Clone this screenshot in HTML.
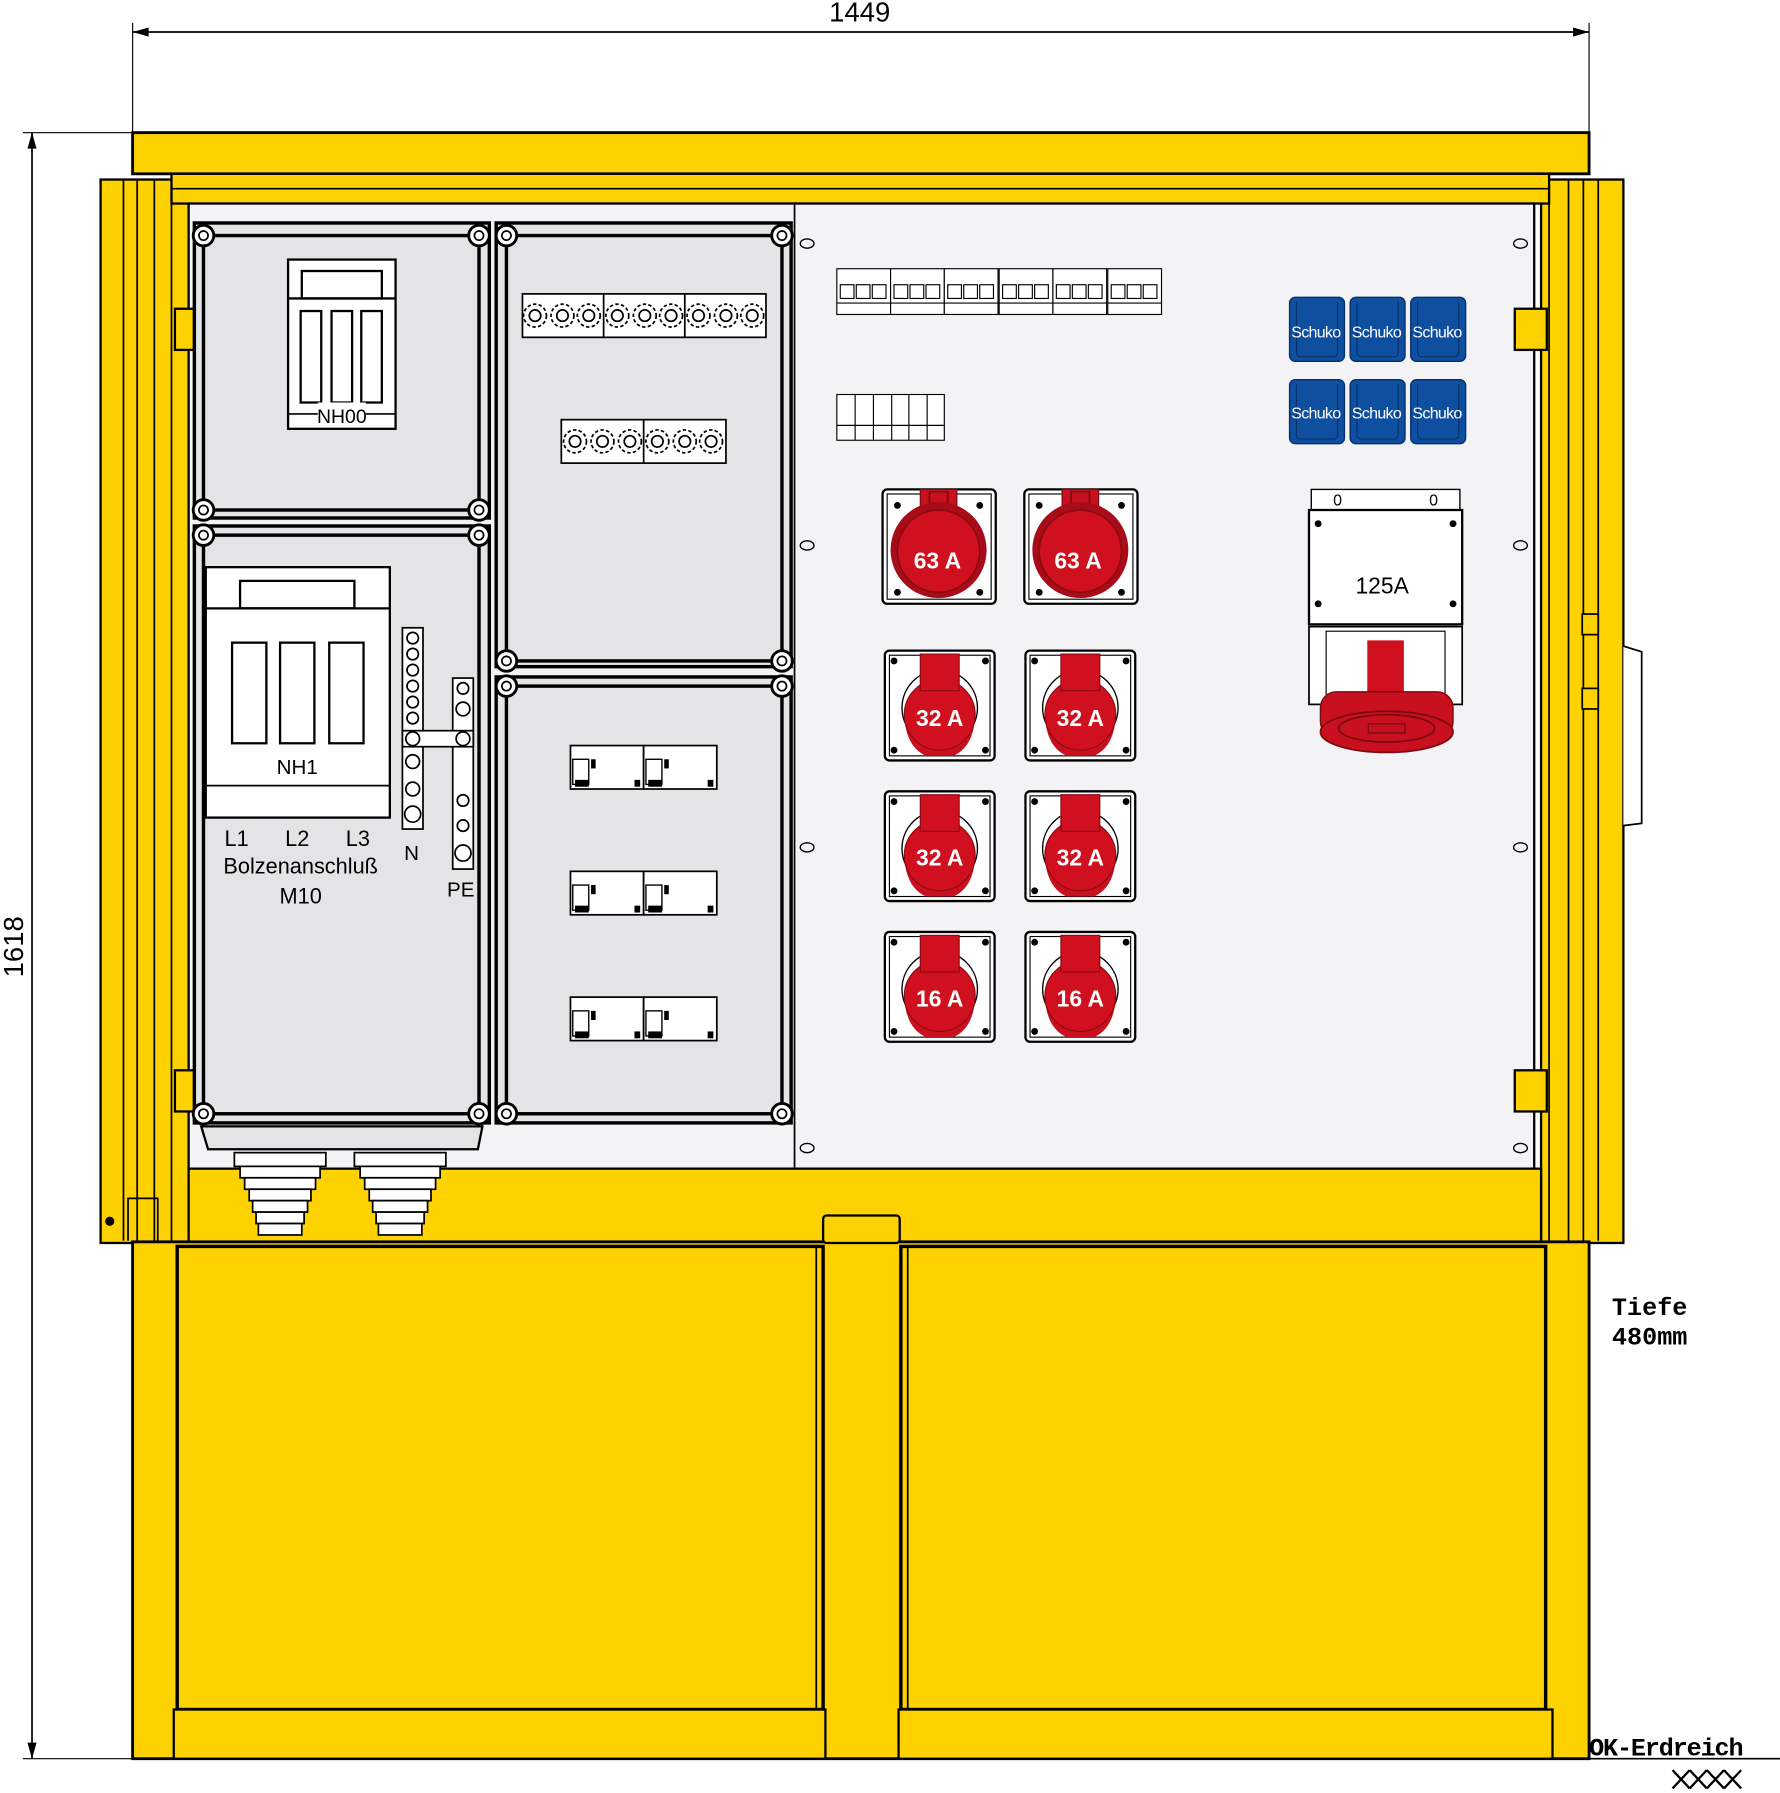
<!DOCTYPE html>
<html><head><meta charset="utf-8"><style>
html,body{margin:0;padding:0;background:#fff;}
svg{display:block;}
</style></head><body>
<svg width="1780" height="1793" viewBox="0 0 1557 1568" preserveAspectRatio="none" xmlns="http://www.w3.org/2000/svg" font-family="Liberation Sans, sans-serif">
<defs>
<g id="scr"><circle r="9" fill="#fff" stroke="#000" stroke-width="2.5"/><circle r="4" fill="none" stroke="#000" stroke-width="1.5"/></g>
<g id="s63">
<rect x="-49" y="-52" width="99" height="100" rx="4" fill="#fff" stroke="#000" stroke-width="2"/>
<rect x="-45" y="-48" width="91" height="92" fill="none" stroke="#000" stroke-width="1"/>
<circle cx="-36" cy="-38" r="3" fill="#000"/><circle cx="36" cy="-38" r="3" fill="#000"/>
<circle cx="-36" cy="38" r="3" fill="#000"/><circle cx="36" cy="38" r="3" fill="#000"/>
<rect x="-16" y="-52" width="32" height="24" fill="#c8101e" stroke="#7a0a10" stroke-width="1"/>
<rect x="-8" y="-50" width="16" height="12" fill="none" stroke="#7a0a10" stroke-width="1.5"/>
<circle cx="0" cy="1" r="42" fill="#a80c18"/>
<circle cx="0" cy="2" r="36" fill="#d0101f" stroke="#8a0a12" stroke-width="1.5"/>
</g>
<g id="s32">
<rect x="-48" y="-48" width="96" height="96" rx="4" fill="#fff" stroke="#000" stroke-width="2"/>
<rect x="-44" y="-44" width="88" height="88" fill="none" stroke="#000" stroke-width="1"/>
<circle cx="-40" cy="-39" r="3" fill="#000"/><circle cx="40" cy="-39" r="3" fill="#000"/>
<circle cx="-40" cy="39" r="3" fill="#000"/><circle cx="40" cy="39" r="3" fill="#000"/>
<circle cx="0" cy="2" r="33" fill="none" stroke="#000" stroke-width="1.2"/>
<path d="M-31 8 Q-30 36 -12 44 L12 44 Q30 36 31 8 Z" fill="#c8101e"/>
<circle cx="0" cy="8" r="31" fill="#d0101f" stroke="#8a0a12" stroke-width="1"/>
<rect x="-17" y="-45" width="34" height="32" fill="#d0101f" stroke="#8a0a12" stroke-width="1"/>
</g>
<g id="fuse"><rect x="0" y="0" width="64" height="38" fill="#fff" stroke="#000" stroke-width="1.5"/>
<rect x="2" y="12" width="14" height="22" fill="none" stroke="#000" stroke-width="1.2"/><rect x="4" y="30" width="12" height="6" fill="#000"/><rect x="56" y="30" width="5" height="6" fill="#000"/><rect x="18" y="12" width="4" height="8" fill="#000"/></g>
<g id="term"><circle r="10" fill="#fff" stroke="#000" stroke-width="1.5" stroke-dasharray="3 2"/><circle r="5" fill="none" stroke="#000" stroke-width="1.5"/></g>
<g id="sch"><rect width="48" height="56" rx="5" fill="#0e4fa0" stroke="#06306b" stroke-width="1.2"/><path d="M6 4 V48 Q6 52 10 52 H38 Q42 52 42 48 V4" fill="none" stroke="#06306b" stroke-width="1"/></g>
<g id="mcb"><rect width="47" height="40" fill="#fff" stroke="#000" stroke-width="1"/><rect x="3" y="14" width="12" height="12" fill="none" stroke="#000"/><rect x="17" y="14" width="12" height="12" fill="none" stroke="#000"/><rect x="31" y="14" width="12" height="12" fill="none" stroke="#000"/><line x1="0" y1="30" x2="47" y2="30" stroke="#000"/></g>
<g id="gland" fill="#fff" stroke="#000" stroke-width="1.5">
<rect x="0" y="0" width="80" height="12"/><rect x="5" y="12" width="70" height="10"/><rect x="9" y="22" width="62" height="10"/><rect x="13" y="32" width="54" height="10"/><rect x="16" y="42" width="48" height="10"/><rect x="19" y="52" width="42" height="10"/><rect x="21" y="62" width="38" height="10"/>
</g>
</defs>

<!-- dimensions -->
<line x1="116" y1="28" x2="1390" y2="28" stroke="#000" stroke-width="1.5"/>
<path d="M116 28 l14 -4 v8z M1390 28 l-14 -4 v8z" fill="#000"/>
<line x1="116" y1="20" x2="116" y2="116" stroke="#000" stroke-width="1"/>
<line x1="1390" y1="20" x2="1390" y2="116" stroke="#000" stroke-width="1"/>
<text x="752" y="19" font-size="24" text-anchor="middle">1449</text>
<line x1="28" y1="116" x2="28" y2="1538" stroke="#000" stroke-width="1.5"/>
<path d="M28 116 l-4 14 h8z M28 1538 l-4 -14 h8z" fill="#000"/>
<line x1="20" y1="116" x2="116" y2="116" stroke="#000"/>
<line x1="20" y1="1538" x2="1390" y2="1538" stroke="#000"/>
<text transform="translate(20,828) rotate(-90)" font-size="24" text-anchor="middle">1618</text>

<!-- roof -->
<rect x="116" y="116" width="1274" height="36" fill="#fdd200" stroke="#000" stroke-width="2.5"/>
<rect x="88" y="157" width="77" height="930" fill="#fdd200" stroke="#000" stroke-width="2"/>
<rect x="1348" y="157" width="72" height="930" fill="#fdd200" stroke="#000" stroke-width="2"/>
<g stroke="#000" stroke-width="1.5" fill="none">
<line x1="108" y1="157" x2="108" y2="1085"/><line x1="120" y1="157" x2="120" y2="1085"/><line x1="135" y1="157" x2="135" y2="1085"/><line x1="150" y1="157" x2="150" y2="1085"/>
<line x1="1355" y1="157" x2="1355" y2="1085"/><line x1="1372" y1="157" x2="1372" y2="1085"/><line x1="1385" y1="157" x2="1385" y2="1085"/><line x1="1398" y1="157" x2="1398" y2="1085"/>
</g>
<path d="M1420 565 L1436 570 L1436 720 L1420 722" fill="#fff" stroke="#000" stroke-width="1.5"/>
<rect x="150" y="152" width="1205" height="26" fill="#fdd200" stroke="#000" stroke-width="2"/>
<line x1="150" y1="165" x2="1355" y2="165" stroke="#000" stroke-width="1.5"/>
<rect x="165" y="178" width="1177" height="844" fill="#f3f3f5" stroke="#000" stroke-width="2"/>
<line x1="695" y1="178" x2="695" y2="1022" stroke="#000" stroke-width="1.5"/>
<rect x="153" y="270" width="30" height="36" fill="#fdd200" stroke="#000" stroke-width="2"/>
<rect x="153" y="936" width="30" height="36" fill="#fdd200" stroke="#000" stroke-width="2"/>
<rect x="1325" y="270" width="28" height="36" fill="#fdd200" stroke="#000" stroke-width="2"/>
<rect x="1325" y="936" width="28" height="36" fill="#fdd200" stroke="#000" stroke-width="2"/>
<rect x="1384" y="537" width="14" height="18" fill="#fdd200" stroke="#000" stroke-width="1.5"/>
<rect x="1384" y="602" width="14" height="18" fill="#fdd200" stroke="#000" stroke-width="1.5"/>

<!-- lower band -->
<rect x="165" y="1022" width="1183" height="64" fill="#fdd200" stroke="#000" stroke-width="2"/>
<path d="M112 1085 V1048 H138 V1085" fill="none" stroke="#000" stroke-width="1.5"/>
<circle cx="96" cy="1068" r="4" fill="#000"/>

<!-- compartments -->
<g fill="#e4e4e6" stroke="#000" stroke-width="3">
<rect x="170" y="195" width="258" height="258"/>
<rect x="170" y="460" width="258" height="522"/>
<rect x="434" y="195" width="258" height="388"/>
<rect x="434" y="592" width="258" height="390"/>
</g>
<g fill="none" stroke="#000" stroke-width="3">
<rect x="178" y="206" width="241" height="240"/>
<rect x="178" y="468" width="241" height="506"/>
<rect x="443" y="206" width="241" height="372"/>
<rect x="443" y="600" width="241" height="374"/>
</g>
<g>
<use href="#scr" x="178" y="206"/><use href="#scr" x="419" y="206"/><use href="#scr" x="178" y="446"/><use href="#scr" x="419" y="446"/>
<use href="#scr" x="178" y="468"/><use href="#scr" x="419" y="468"/><use href="#scr" x="178" y="974"/><use href="#scr" x="419" y="974"/>
<use href="#scr" x="443" y="206"/><use href="#scr" x="684" y="206"/><use href="#scr" x="443" y="578"/><use href="#scr" x="684" y="578"/>
<use href="#scr" x="443" y="600"/><use href="#scr" x="684" y="600"/><use href="#scr" x="443" y="974"/><use href="#scr" x="684" y="974"/>
</g>
<!-- NH00 -->
<rect x="252" y="227" width="94" height="148" fill="#fff" stroke="#000" stroke-width="2"/>
<rect x="264" y="237" width="70" height="24" fill="#fff" stroke="#000" stroke-width="2"/>
<line x1="252" y1="261" x2="346" y2="261" stroke="#000" stroke-width="2"/>
<g fill="#fff" stroke="#000" stroke-width="2"><rect x="263" y="272" width="18" height="80"/><rect x="290" y="272" width="18" height="80"/><rect x="316" y="272" width="18" height="80"/></g>
<line x1="252" y1="362" x2="346" y2="362" stroke="#000" stroke-width="1.5"/>
<rect x="278" y="352" width="42" height="20" fill="#fff"/>
<text x="299" y="370" font-size="17" text-anchor="middle">NH00</text>
<!-- NH1 -->
<rect x="180" y="496" width="161" height="219" fill="#fff" stroke="#000" stroke-width="2"/>
<rect x="210" y="508" width="100" height="24" fill="#fff" stroke="#000" stroke-width="2"/>
<line x1="180" y1="532" x2="341" y2="532" stroke="#000" stroke-width="2"/>
<g fill="#fff" stroke="#000" stroke-width="2"><rect x="203" y="562" width="30" height="88"/><rect x="245" y="562" width="30" height="88"/><rect x="288" y="562" width="30" height="88"/></g>
<line x1="180" y1="687" x2="341" y2="687" stroke="#000" stroke-width="1.5"/>
<text x="260" y="677" font-size="18" text-anchor="middle">NH1</text>
<text x="207" y="740" font-size="19" text-anchor="middle">L1</text>
<text x="260" y="740" font-size="19" text-anchor="middle">L2</text>
<text x="313" y="740" font-size="19" text-anchor="middle">L3</text>
<text x="263" y="764" font-size="19" text-anchor="middle">Bolzenanschluß</text>
<text x="263" y="790" font-size="19" text-anchor="middle">M10</text>
<text x="360" y="752" font-size="18" text-anchor="middle">N</text>
<text x="403" y="784" font-size="18" text-anchor="middle">PE</text>
<rect x="352" y="549" width="18" height="176" fill="#fff" stroke="#000" stroke-width="1.5"/>
<g fill="#fff" stroke="#000" stroke-width="1.5">
<circle cx="361" cy="558" r="5"/><circle cx="361" cy="572" r="5"/><circle cx="361" cy="586" r="5"/><circle cx="361" cy="600" r="5"/><circle cx="361" cy="614" r="5"/><circle cx="361" cy="628" r="5"/><circle cx="361" cy="666" r="6"/><circle cx="361" cy="690" r="6"/><circle cx="361" cy="712" r="7"/>
</g>
<rect x="396" y="593" width="18" height="167" fill="#fff" stroke="#000" stroke-width="1.5"/>
<rect x="352" y="639" width="62" height="14" fill="#fff" stroke="#000" stroke-width="1.5"/>
<g fill="#fff" stroke="#000" stroke-width="1.5">
<circle cx="405" cy="602" r="5"/><circle cx="405" cy="620" r="6"/><circle cx="361" cy="646" r="6"/><circle cx="405" cy="646" r="6"/><circle cx="405" cy="700" r="5"/><circle cx="405" cy="722" r="5"/><circle cx="405" cy="746" r="7"/>
</g>
<g fill="#fff" stroke="#000" stroke-width="1.5">
<rect x="457" y="257" width="213" height="38"/><line x1="528" y1="257" x2="528" y2="295"/><line x1="599" y1="257" x2="599" y2="295"/>
<rect x="491" y="367" width="144" height="38"/><line x1="563" y1="367" x2="563" y2="405"/>
</g>
<g>
<use href="#term" x="468" y="276"/><use href="#term" x="492" y="276"/><use href="#term" x="515" y="276"/><use href="#term" x="540" y="276"/><use href="#term" x="564" y="276"/><use href="#term" x="587" y="276"/><use href="#term" x="611" y="276"/><use href="#term" x="635" y="276"/><use href="#term" x="658" y="276"/>
<use href="#term" x="503" y="386"/><use href="#term" x="527" y="386"/><use href="#term" x="551" y="386"/><use href="#term" x="575" y="386"/><use href="#term" x="599" y="386"/><use href="#term" x="622" y="386"/>
</g>
<use href="#fuse" x="499" y="652"/><use href="#fuse" x="563" y="652"/>
<use href="#fuse" x="499" y="762"/><use href="#fuse" x="563" y="762"/>
<use href="#fuse" x="499" y="872"/><use href="#fuse" x="563" y="872"/>
<!-- bottom tray / glands -->
<path d="M176 985 L422 985 L418 1005 L182 1005 Z" fill="#e4e4e6" stroke="#000" stroke-width="2"/>
<use href="#gland" x="205" y="1008"/><use href="#gland" x="310" y="1008"/>
<!-- MCBs -->
<g><use href="#mcb" x="732" y="235"/><use href="#mcb" x="779" y="235"/><use href="#mcb" x="826" y="235"/><use href="#mcb" x="874" y="235"/><use href="#mcb" x="921" y="235"/><use href="#mcb" x="969" y="235"/></g>
<g fill="#fff" stroke="#000" stroke-width="1">
<rect x="732" y="345" width="94" height="40"/>
<line x1="748" y1="345" x2="748" y2="385"/><line x1="764" y1="345" x2="764" y2="385"/><line x1="780" y1="345" x2="780" y2="385"/><line x1="795" y1="345" x2="795" y2="385"/><line x1="811" y1="345" x2="811" y2="385"/>
<line x1="732" y1="372" x2="826" y2="372"/>
</g>
<g fill="none" stroke="#000" stroke-width="1.2">
<ellipse cx="706" cy="213" rx="6" ry="4"/><ellipse cx="706" cy="477" rx="6" ry="4"/><ellipse cx="706" cy="741" rx="6" ry="4"/><ellipse cx="706" cy="1004" rx="6" ry="4"/>
<ellipse cx="1330" cy="213" rx="6" ry="4"/><ellipse cx="1330" cy="477" rx="6" ry="4"/><ellipse cx="1330" cy="741" rx="6" ry="4"/><ellipse cx="1330" cy="1004" rx="6" ry="4"/>
</g>
<use href="#s63" x="821" y="480"/><use href="#s63" x="945" y="480"/>
<use href="#s32" x="822" y="617"/><use href="#s32" x="945" y="617"/>
<use href="#s32" x="822" y="740"/><use href="#s32" x="945" y="740"/>
<use href="#s32" x="822" y="863"/><use href="#s32" x="945" y="863"/>
<g fill="#fff" font-weight="bold" font-size="20" text-anchor="middle">
<text x="820" y="497">63 A</text><text x="943" y="497">63 A</text>
<text x="822" y="635">32 A</text><text x="945" y="635">32 A</text>
<text x="822" y="757">32 A</text><text x="945" y="757">32 A</text>
<text x="822" y="880">16 A</text><text x="945" y="880">16 A</text>
</g>
<use href="#sch" x="1128" y="260"/><use href="#sch" x="1181" y="260"/><use href="#sch" x="1234" y="260"/>
<use href="#sch" x="1128" y="332"/><use href="#sch" x="1181" y="332"/><use href="#sch" x="1234" y="332"/>
<g fill="#fff" font-size="14" text-anchor="middle" letter-spacing="-0.6">
<text x="1151" y="295">Schuko</text><text x="1204" y="295">Schuko</text><text x="1257" y="295">Schuko</text>
<text x="1151" y="366">Schuko</text><text x="1204" y="366">Schuko</text><text x="1257" y="366">Schuko</text>
</g>
<rect x="1147" y="428" width="130" height="18" fill="#fff" stroke="#000" stroke-width="1.2"/>
<text x="1170" y="442" font-size="14" text-anchor="middle">0</text><text x="1254" y="442" font-size="14" text-anchor="middle">0</text>
<rect x="1145" y="446" width="134" height="100" fill="#fff" stroke="#000" stroke-width="2"/>
<circle cx="1153" cy="458" r="3"/><circle cx="1271" cy="458" r="3"/><circle cx="1153" cy="528" r="3"/><circle cx="1271" cy="528" r="3"/>
<text x="1209" y="519" font-size="20" text-anchor="middle">125A</text>
<rect x="1145" y="548" width="134" height="68" fill="#fff" stroke="#000" stroke-width="1.5"/>
<rect x="1160" y="552" width="104" height="60" fill="none" stroke="#000" stroke-width="1"/>
<rect x="1196" y="560" width="32" height="50" fill="#d0101f"/>
<rect x="1155" y="605" width="116" height="40" rx="14" fill="#c8101e" stroke="#7a0a10" stroke-width="1.2"/>
<ellipse cx="1213" cy="640" rx="58" ry="18" fill="#c8101e" stroke="#7a0a10" stroke-width="1.5"/>
<ellipse cx="1213" cy="637" rx="42" ry="12" fill="none" stroke="#7a0a10" stroke-width="1.5"/>
<rect x="1197" y="633" width="32" height="8" fill="none" stroke="#7a0a10" stroke-width="1.2"/>

<!-- base -->
<rect x="116" y="1086" width="1274" height="452" fill="#fdd200" stroke="#000" stroke-width="2.5"/>
<rect x="155" y="1090" width="565" height="405" fill="#fdd200" stroke="#000" stroke-width="3"/>
<rect x="788" y="1090" width="564" height="405" fill="#fdd200" stroke="#000" stroke-width="3"/>
<line x1="714" y1="1090" x2="714" y2="1495" stroke="#000" stroke-width="1.5"/>
<line x1="794" y1="1090" x2="794" y2="1495" stroke="#000" stroke-width="1.5"/>
<rect x="720" y="1063" width="67" height="24" rx="3" fill="#fdd200" stroke="#000" stroke-width="2"/>
<rect x="152" y="1495" width="570" height="43" fill="#fdd200" stroke="#000" stroke-width="2"/>
<rect x="786" y="1495" width="572" height="43" fill="#fdd200" stroke="#000" stroke-width="2"/>
<line x1="1390" y1="1538" x2="1557" y2="1538" stroke="#000" stroke-width="1.5"/>
<g style="font-family:'Liberation Mono',monospace;font-weight:bold" font-size="22">
<text x="1410" y="1150">Tiefe</text>
<text x="1410" y="1176">480mm</text>
<text x="1390" y="1535" letter-spacing="-1">OK-Erdreich</text>
</g>
<path d="M1463 1548 l15 16 M1478 1548 l-15 16 M1478 1548 l15 16 M1493 1548 l-15 16 M1493 1548 l15 16 M1508 1548 l-15 16 M1508 1548 l15 16 M1523 1548 l-15 16" stroke="#000" stroke-width="2"/>
</svg>
</body></html>
